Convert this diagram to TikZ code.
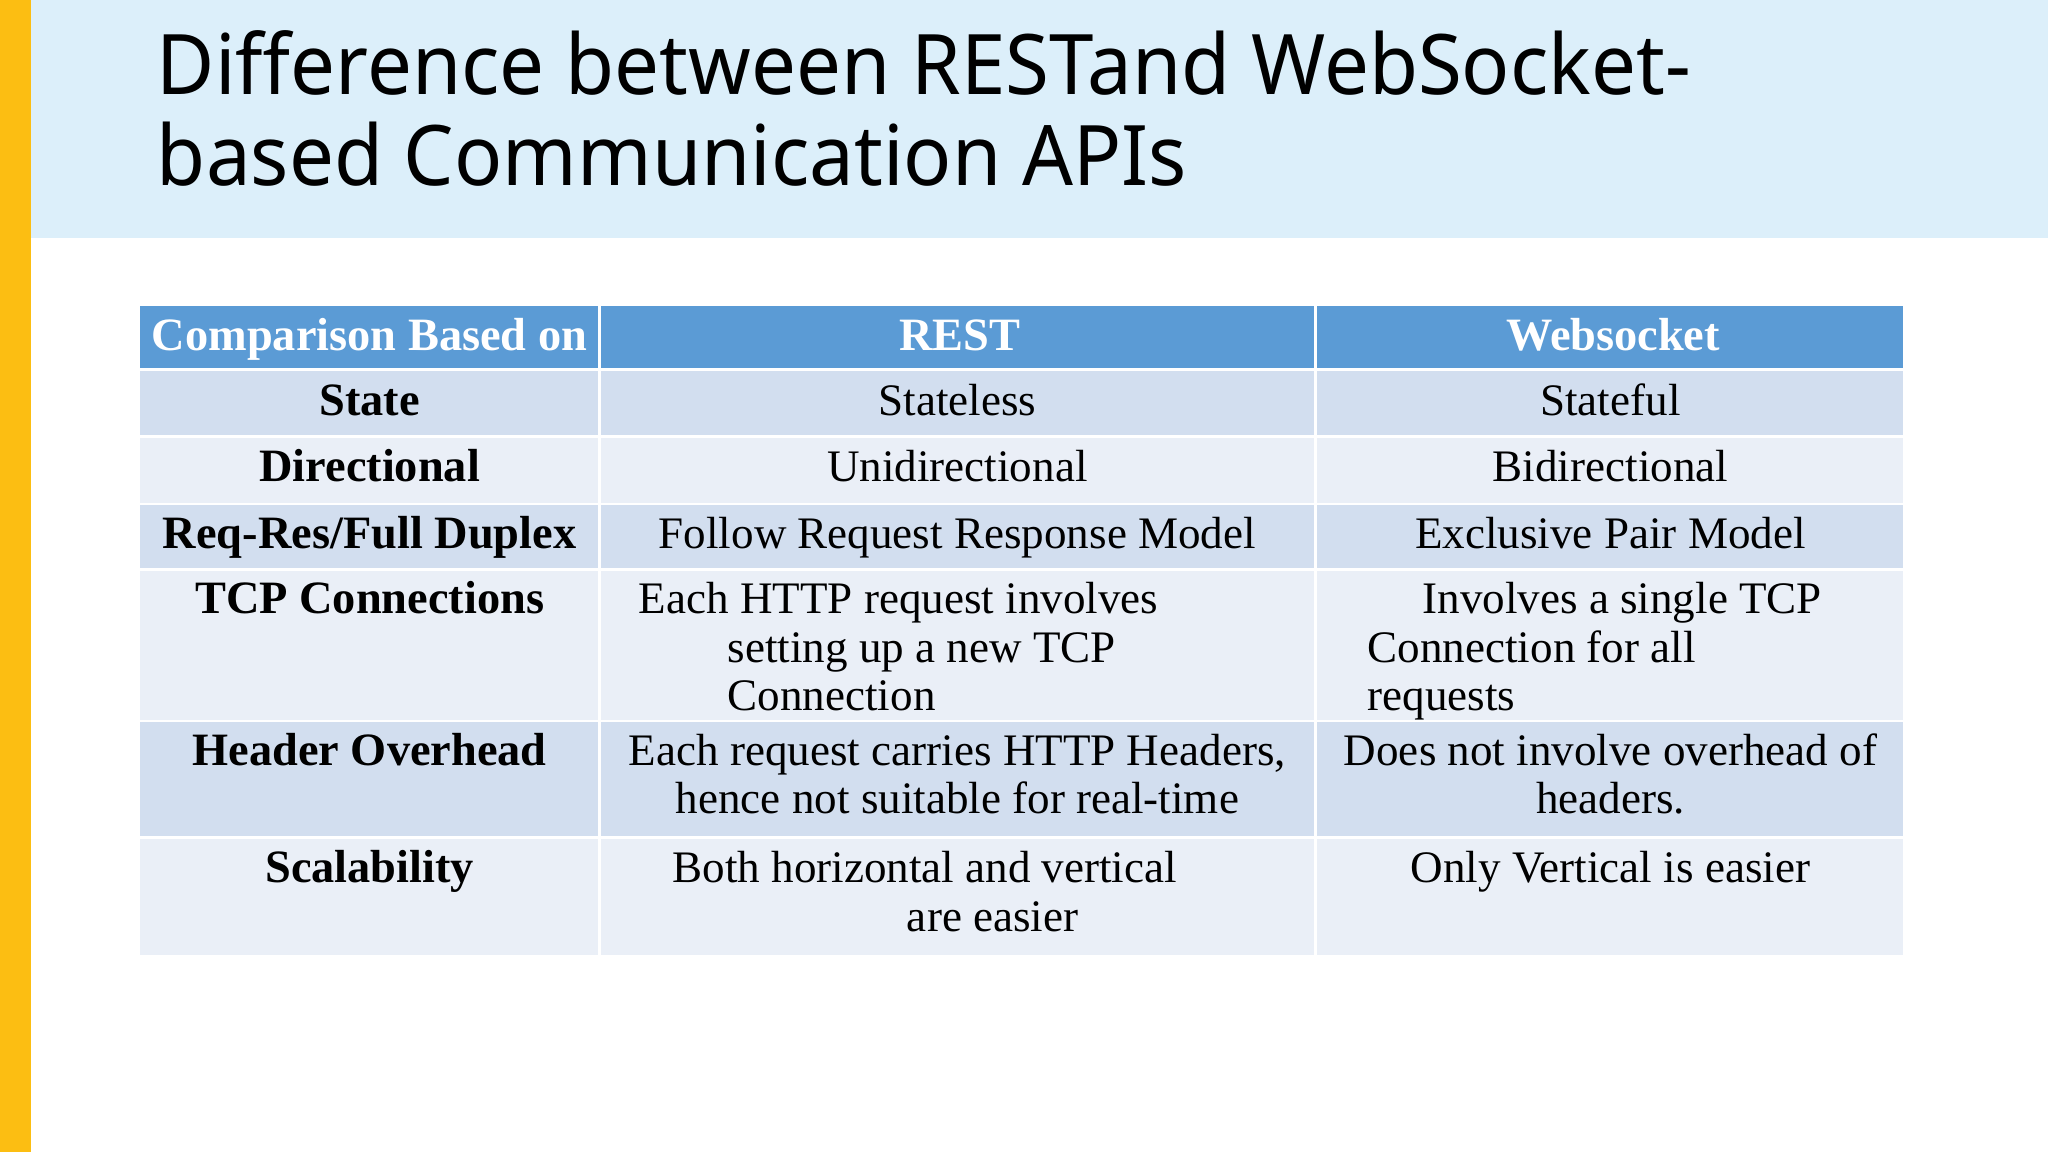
\documentclass[tikz,border=0pt]{standalone}
\usepackage{fontspec}
\setmainfont{Liberation Serif}
\newfontfamily\titlefont{Noto Sans}
\definecolor{yellowbar}{HTML}{FCBE12}
\definecolor{hbg}{HTML}{DCEFFA}
\definecolor{thd}{HTML}{5B9BD5}
\definecolor{rowa}{HTML}{D2DEEF}
\definecolor{rowb}{HTML}{EAEFF7}
\begin{document}
\begin{tikzpicture}[x=1pt,y=-1pt,
  hd/.style={text=white,font=\fontsize{35.5}{37}\selectfont\bfseries,anchor=base},
  fc/.style={font=\fontsize{35.5}{37}\selectfont\bfseries,anchor=base},
  tc/.style={font=\fontsize{34.5}{37}\selectfont,anchor=base},
  tl/.style={font=\fontsize{34.5}{37}\selectfont,anchor=base west,inner sep=0pt}]
\useasboundingbox (0,0) rectangle (1568,882);
\fill[white] (0,0) rectangle (1568,882);
\fill[yellowbar] (0,0) rectangle (24,882);
\fill[hbg] (24,0) rectangle (1568,182);
\node[anchor=base west,inner sep=0pt,font=\titlefont\fontsize{64}{70}\selectfont,xscale=0.955] (t1) at (120,72) {Difference between RESTand WebSocket-};
\node[anchor=base west,inner sep=0pt,font=\titlefont\fontsize{64}{70}\selectfont,xscale=0.955] (t2) at (120,142) {based Communication APIs};
% table backgrounds
\fill[thd] (107,234) rectangle (1457,282);
\fill[rowa] (107,284) rectangle (1457,333);
\fill[rowb] (107,335) rectangle (1457,385);
\fill[rowa] (107,387) rectangle (1457,435);
\fill[rowb] (107,437) rectangle (1457,551);
\fill[rowa] (107,553) rectangle (1457,640);
\fill[rowb] (107,642) rectangle (1457,731);
\draw[white,line width=2pt] (459,234) -- (459,731) (1007,234) -- (1007,731);
% header
\node[hd] (h1) at (283,268) {Comparison Based on};
\node[hd] (h2) at (735,268) {REST};
\node[hd] (h3) at (1235,268) {Websocket};
% rows
\node[fc] (a1) at (283,318) {State};
\node[tc] (b1) at (733,318) {Stateless};
\node[tc] (c1) at (1233,318) {Stateful};
\node[fc] (a2) at (283,369) {Directional};
\node[tc] (b2) at (733,369) {Unidirectional};
\node[tc] (c2) at (1233,369) {Bidirectional};
\node[fc] (a3) at (283,420) {Req-Res/Full Duplex};
\node[tc] (b3) at (733,420) {Follow Request Response Model};
\node[tc] (c3) at (1233,420) {Exclusive Pair Model};
\node[fc] (a4) at (283,470) {TCP Connections};
\node[tl] (b4a) at (489,470) {Each HTTP request involves};
\node[tl] (b4b) at (557,507) {setting up a new TCP};
\node[tl] (b4c) at (557,544) {Connection};
\node[tl] (c4a) at (1089,470) {Involves a single TCP};
\node[tl] (c4b) at (1047,507) {Connection for all};
\node[tl] (c4c) at (1047,544) {requests};
\node[fc] (a5) at (283,586) {Header Overhead};
\node[tc] (b5a) at (733,586) {Each request carries HTTP Headers,};
\node[tc] (b5b) at (733,623) {hence not suitable for real-time};
\node[tc] (c5a) at (1233,586) {Does not involve overhead of};
\node[tc] (c5b) at (1233,623) {headers.};
\node[fc] (a6) at (283,676) {Scalability};
\node[tc] (b6a) at (708,676) {Both horizontal and vertical};
\node[tc] (b6b) at (760,713) {are easier};
\node[tc] (c6) at (1233,676) {Only Vertical is easier};
\end{tikzpicture}
\end{document}
